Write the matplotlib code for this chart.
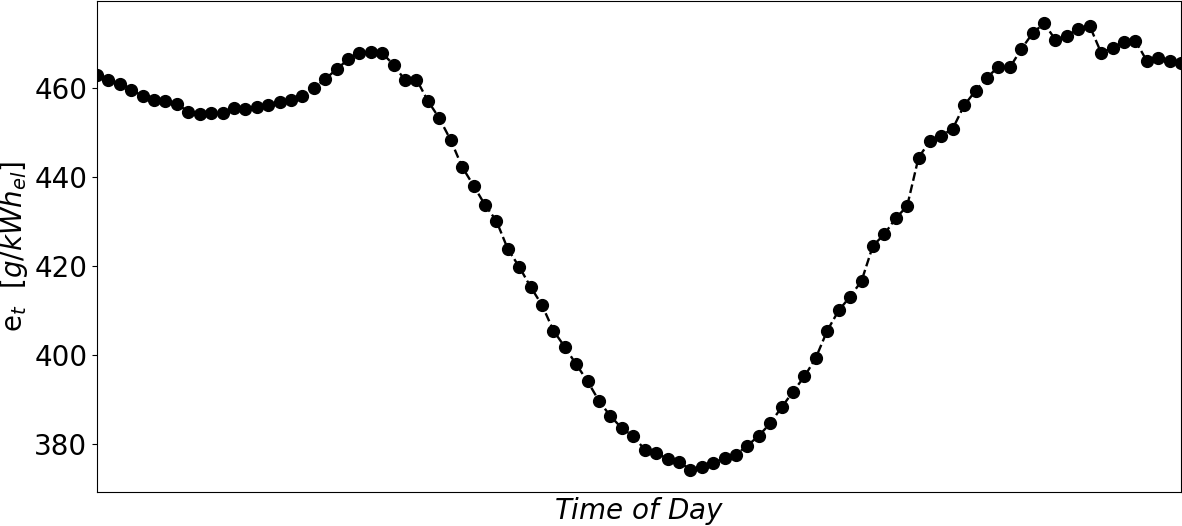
import matplotlib
matplotlib.use("Agg")
import matplotlib.pyplot as plt
import numpy as np

emissions = [
    462.9, 461.8, 460.8, 459.5, 458.1, 457.3, 456.9, 456.3, 454.6, 454.1,
    454.4, 454.2, 455.3, 455.2, 455.6, 456.1, 456.7, 457.3, 458.1, 459.8,
    461.9, 464.1, 466.3, 467.7, 468.0, 467.7, 465.1, 461.6, 461.8, 457.0,
    453.1, 448.2, 442.2, 438.0, 433.7, 430.1, 423.8, 419.8, 415.3, 411.2,
    405.5, 401.8, 397.9, 394.1, 389.7, 386.3, 383.6, 381.8, 378.8, 378.1,
    376.7, 376.1, 374.3, 374.8, 375.8, 376.9, 377.7, 379.7, 381.9, 384.7,
    388.3, 391.8, 395.2, 399.4, 405.5, 410.0, 413.1, 416.6, 424.5, 427.1,
    430.7, 433.4, 444.3, 448.0, 449.2, 450.8, 456.0, 459.3, 462.2, 464.7,
    464.5, 468.6, 472.2, 474.4, 470.7, 471.6, 473.1, 473.8, 467.8, 468.9,
    470.3, 470.5, 466.0, 466.6, 465.9, 465.6,
]
time_idx = np.arange(len(emissions))

fig = plt.figure(figsize=(11.82, 5.26), dpi=100)
ax = fig.add_axes([97/1182, 34/526, 1084/1182, 491/526])
ax.plot(time_idx, emissions, linestyle='--', color='black', marker='o',
        markersize=8.5, linewidth=1.7)
ax.set_xlim(0, len(emissions) - 1)
ax.set_xticks([])
ax.tick_params(axis='y', labelsize=20)
ax.set_xlabel(r'$Time\ of\ Day$', fontsize=20, labelpad=2)
ax.set_ylabel(r'e$_t$  [$g/kWh_{el}$]', fontsize=20)
ax.yaxis.set_label_coords(-0.062, 0.5)
fig.savefig('out.png', dpi=100)
